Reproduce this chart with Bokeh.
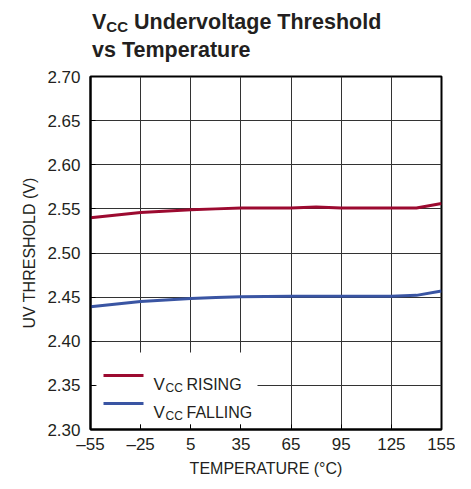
from bokeh.plotting import figure
from bokeh.models import Range1d, FixedTicker, Label, BoxAnnotation, Div
from bokeh.layouts import column
from bokeh.embed import file_html
from bokeh.resources import INLINE

# ---- data ----
temperature = [-55, -25, 5, 20, 35, 65, 80, 95, 125, 140, 155]
vcc_rising = [2.540, 2.546, 2.549, 2.550, 2.551, 2.551, 2.552, 2.551, 2.551, 2.551, 2.556]
vcc_falling = [2.439, 2.445, 2.4485, 2.4495, 2.4505, 2.451, 2.451, 2.451, 2.451, 2.452, 2.457]

x_ticks = [-55, -25, 5, 35, 65, 95, 125, 155]
x_tick_labels = ["\u201355", "\u201325", "5", "35", "65", "95", "125", "155"]
y_ticks = [2.30, 2.35, 2.40, 2.45, 2.50, 2.55, 2.60, 2.65, 2.70]
y_tick_labels = ["2.30", "2.35", "2.40", "2.45", "2.50", "2.55", "2.60", "2.65", "2.70"]

FONT = "Liberation Sans"
TXT = "#231f20"
RED = "#9c0a30"
BLUE = "#3a55a3"

title = Div(
    text=('<div style="font-family:\'Liberation Sans\';font-weight:bold;font-size:21.5px;'
          'line-height:27px;color:#231f20;margin:4px 0 0 87px;white-space:nowrap;">'
          'V<span style="font-size:15px;position:relative;top:3px;">CC</span> Undervoltage Threshold<br>'
          'vs Temperature</div>'),
    width=455, height=52)

p = figure(frame_width=351, frame_height=353,
           min_border_left=90, min_border_right=14, min_border_top=14, min_border_bottom=46,
           x_range=Range1d(-55, 155), y_range=Range1d(2.30, 2.70),
           output_backend="svg", toolbar_location=None)

p.outline_line_color = "black"
p.outline_line_width = 2

for ax in (p.xaxis[0], p.yaxis[0]):
    ax.axis_line_color = "black"
    ax.axis_line_width = 2
    ax.major_tick_in = 5
    ax.major_tick_out = 0
    ax.major_tick_line_color = "black"
    ax.major_tick_line_width = 1
    ax.minor_tick_line_color = None
    ax.major_label_text_font = FONT
    ax.major_label_text_font_size = "17px"
    ax.major_label_text_color = TXT
    ax.axis_label_text_font = FONT
    ax.axis_label_text_font_size = "16px"
    ax.axis_label_text_font_style = "normal"
    ax.axis_label_text_color = TXT

p.xaxis.ticker = FixedTicker(ticks=x_ticks)
p.xaxis.major_label_overrides = {t: l for t, l in zip(x_ticks, x_tick_labels)}
p.xaxis.axis_label = "TEMPERATURE (\u00b0C)"
p.xaxis.major_label_standoff = 5
p.xaxis.axis_label_standoff = 3

p.yaxis.ticker = FixedTicker(ticks=y_ticks)
p.yaxis.major_label_overrides = {t: l for t, l in zip(y_ticks, y_tick_labels)}
p.yaxis.axis_label = "UV THRESHOLD (V)"
p.yaxis.major_label_standoff = 10
p.yaxis.axis_label_standoff = 6

p.xgrid.ticker = FixedTicker(ticks=x_ticks)
p.ygrid.ticker = FixedTicker(ticks=y_ticks)
for g in (p.xgrid[0], p.ygrid[0]):
    g.grid_line_color = "#333333"
    g.grid_line_width = 1

# legend background (covers grid)
legend_bg = BoxAnnotation(left=6, right=167, bottom=5, top=77,
                          left_units="screen", right_units="screen",
                          bottom_units="screen", top_units="screen",
                          fill_color="white", fill_alpha=1.0, line_color=None,
                          level="underlay")
p.add_layout(legend_bg)

p.line(temperature, vcc_rising, line_color=RED, line_width=3)
p.line(temperature, vcc_falling, line_color=BLUE, line_width=3)

# legend samples
for yc, col in ((54, RED), (26, BLUE)):
    p.add_layout(BoxAnnotation(left=13, right=53, bottom=yc - 1.5, top=yc + 1.5,
                               left_units="screen", right_units="screen",
                               bottom_units="screen", top_units="screen",
                               fill_color=col, fill_alpha=1.0, line_color=None))

def lab(x, y, text, size):
    p.add_layout(Label(x=x, y=y, x_units="screen", y_units="screen", text=text,
                       text_font=FONT, text_font_size=size,
                       text_color=TXT, text_baseline="alphabetic", text_align="left"))

# legend texts
lab(63, 45, "V", "17px")
lab(75, 42, "CC", "12px")
lab(96, 45, "RISING", "16px")
lab(63, 17, "V", "17px")
lab(75, 14, "CC", "12px")
lab(96, 17, "FALLING", "16px")

open("out.html", "w").write(file_html(column(title, p), INLINE))
